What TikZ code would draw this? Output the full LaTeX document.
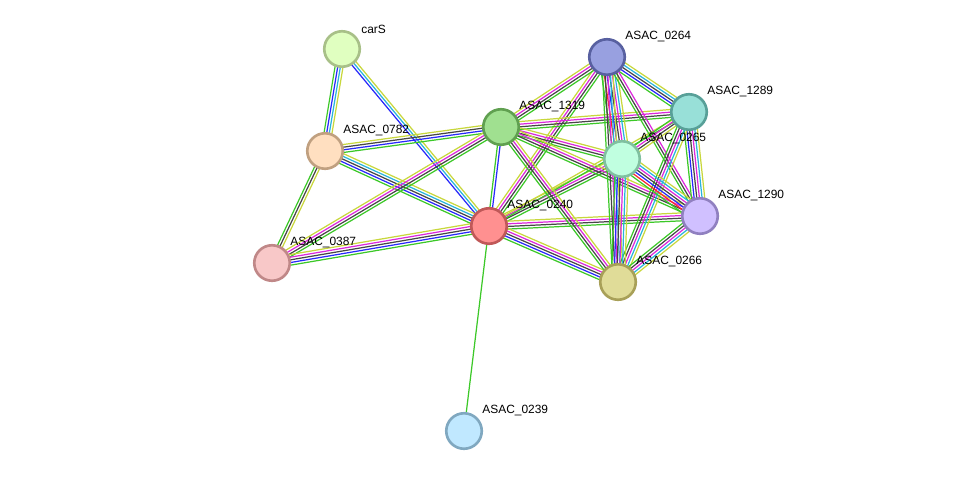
\documentclass[tikz,border=0pt]{standalone}
\usepackage{fontspec}
\setmainfont{Liberation Sans}
\usetikzlibrary{calc}
\definecolor{sgreen}{RGB}{60,200,40}
\definecolor{sblue}{RGB}{40,40,250}
\definecolor{sblack}{RGB}{70,70,70}
\definecolor{smag}{RGB}{220,40,220}
\definecolor{scyan}{RGB}{40,180,220}
\definecolor{syellow}{RGB}{200,215,60}
\definecolor{sred}{RGB}{250,40,40}
% node fill / border colours
\definecolor{fcarS}{RGB}{224,255,192}\definecolor{bcarS}{RGB}{168,192,136}
\definecolor{f0782}{RGB}{255,223,192}\definecolor{b0782}{RGB}{192,160,128}
\definecolor{f1319}{RGB}{160,224,144}\definecolor{b1319}{RGB}{96,160,80}
\definecolor{f0264}{RGB}{152,160,224}\definecolor{b0264}{RGB}{88,96,160}
\definecolor{f1289}{RGB}{152,224,216}\definecolor{b1289}{RGB}{88,160,152}
\definecolor{f0265}{RGB}{192,255,224}\definecolor{b0265}{RGB}{128,192,160}
\definecolor{f1290}{RGB}{208,192,255}\definecolor{b1290}{RGB}{144,128,192}
\definecolor{f0240}{RGB}{255,144,144}\definecolor{b0240}{RGB}{192,88,88}
\definecolor{f0387}{RGB}{248,200,200}\definecolor{b0387}{RGB}{192,136,136}
\definecolor{f0266}{RGB}{224,220,152}\definecolor{b0266}{RGB}{168,160,88}
\definecolor{f0239}{RGB}{192,232,255}\definecolor{b0239}{RGB}{128,168,192}
\pgfdeclarelayer{bg}
\pgfsetlayers{bg,main}
% one bundle of parallel evidence lines between two proteins
\newcommand{\evid}[3]{%
  \xdef\ncol{0}%
  \foreach \c in {#3}{\xdef\ncol{\the\numexpr\ncol+1\relax}}%
  \begin{pgfonlayer}{bg}
  \foreach \c [count=\i] in {#3}{%
    \pgfmathsetmacro\off{(\i-(\ncol+1)/2)*1.5}
    \draw[color=\c, line width=0.7pt] ($(#1.center)!\off pt!90:(#2.center)$) -- ($(#2.center)!\off pt!-90:(#1.center)$);
  }
  \end{pgfonlayer}}

\begin{document}
\begin{tikzpicture}[
    x=0.02cm, y=-0.02cm,
    prot/.style={circle, line width=1.5pt, minimum size=0.71cm, inner sep=0pt, draw=b#1, fill=f#1},
    lbl/.style={anchor=west, inner sep=0pt, font=\fontsize{6.8}{8}\selectfont}
]
\useasboundingbox (0,0) rectangle (976,477);

\node[prot=carS] (carS) at (342,49) {};
\node[prot=0782] (n0782) at (325,151) {};
\node[prot=1319] (n1319) at (501,127) {};
\node[prot=0264] (n0264) at (607,57) {};
\node[prot=1289] (n1289) at (689,112) {};
\node[prot=0265] (n0265) at (622,159) {};
\node[prot=1290] (n1290) at (700,216) {};
\node[prot=0240] (n0240) at (489,226) {};
\node[prot=0387] (n0387) at (272,263) {};
\node[prot=0266] (n0266) at (618,282) {};
\node[prot=0239] (n0239) at (464,431) {};

\node[lbl] (lcarS) at ($(carS)+(19,-20)$) {carS};
\node[lbl] (l0782) at ($(n0782)+(18,-20)$) {ASAC\_0782};
\node[lbl] (l1319) at ($(n1319)+(18,-20)$) {ASAC\_1319};
\node[lbl] (l0264) at ($(n0264)+(18,-20)$) {ASAC\_0264};
\node[lbl] (l1289) at ($(n1289)+(18,-20)$) {ASAC\_1289};
\node[lbl] (l0265) at ($(n0265)+(18,-20)$) {ASAC\_0265};
\node[lbl] (l1290) at ($(n1290)+(18,-20)$) {ASAC\_1290};
\node[lbl] (l0240) at ($(n0240)+(18,-20)$) {ASAC\_0240};
\node[lbl] (l0387) at ($(n0387)+(18,-20)$) {ASAC\_0387};
\node[lbl] (l0266) at ($(n0266)+(18,-20)$) {ASAC\_0266};
\node[lbl] (l0239) at ($(n0239)+(18,-20)$) {ASAC\_0239};

\evid{carS}{n0782}{sgreen,sblue,scyan,syellow}
\evid{carS}{n0240}{sblue,scyan,syellow}
\evid{n0782}{n1319}{sgreen,sblue,sblack,syellow}
\evid{n0782}{n0240}{sgreen,sblue,sblack,scyan,syellow}
\evid{n0782}{n0387}{sgreen,sblack,syellow}
\evid{n0387}{n1319}{sgreen,sblack,smag,syellow}
\evid{n0387}{n0240}{sgreen,sblue,sblack,smag,syellow}
\evid{n1319}{n0240}{sgreen,sblue}
\evid{n0240}{n0239}{sgreen}
\evid{n0240}{n0264}{sgreen,sblack,smag,syellow}
\evid{n0240}{n0265}{sgreen,sblack,smag,syellow}
\evid{n0240}{n1289}{sgreen,syellow}
\evid{n0240}{n1290}{sgreen,sblack,smag,syellow}
\evid{n0240}{n0266}{sgreen,sblue,sblack,smag,syellow}
\evid{n1319}{n0264}{sgreen,sblack,smag,syellow}
\evid{n1319}{n1289}{sgreen,sblack,smag,syellow}
\evid{n1319}{n0265}{sgreen,sblack,smag,syellow}
\evid{n1319}{n1290}{sgreen,sblack,smag,syellow}
\evid{n1319}{n0266}{sgreen,sblack,smag,syellow}
\evid{n0264}{n1289}{sgreen,sblue,sblack,scyan,syellow}
\evid{n0264}{n0265}{sgreen,sred,sblue,sblack,smag,scyan,syellow}
\evid{n0264}{n1290}{sgreen,sblack,smag}
\evid{n0264}{n0266}{sgreen,sblack,smag,scyan,syellow}
\evid{n1289}{n0265}{sgreen,smag,sblack,syellow}
\evid{n1289}{n1290}{sgreen,sblue,sblack,smag,scyan,syellow}
\evid{n1289}{n0266}{sgreen,sblack,smag,scyan,syellow}
\evid{n0265}{n1290}{sgreen,sred,sblue,sblack,smag,scyan,syellow}
\evid{n0265}{n0266}{sgreen,sblue,sblack,smag,scyan,syellow}
\evid{n1290}{n0266}{sgreen,sblack,smag,scyan,syellow}
\end{tikzpicture}
\end{document}
